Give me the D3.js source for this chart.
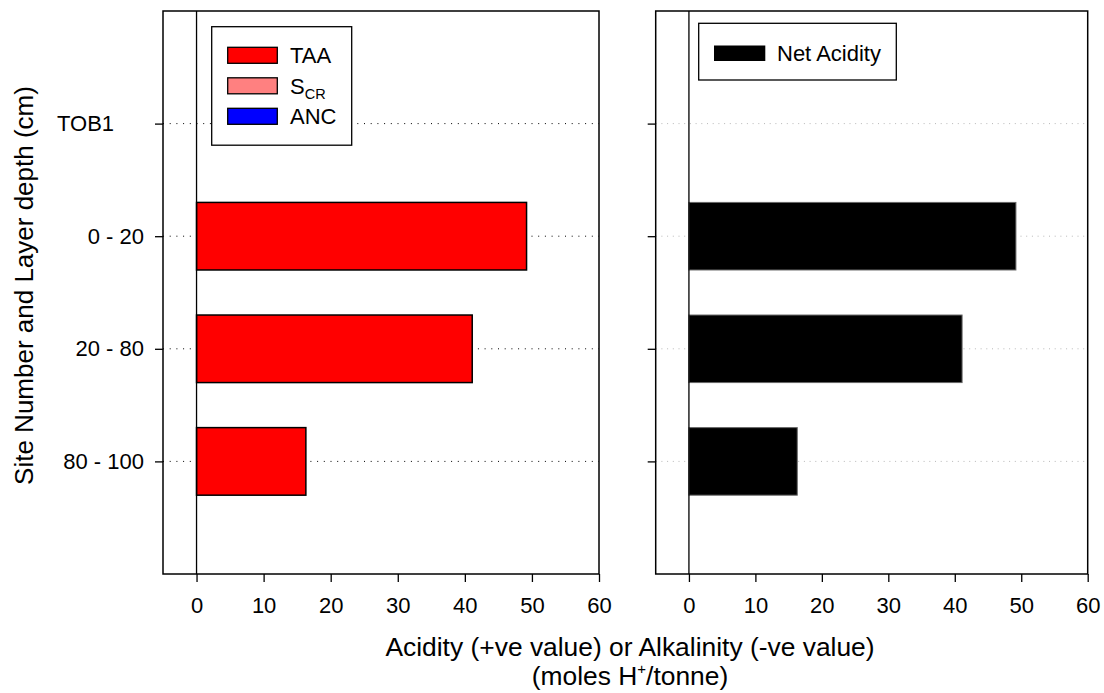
<!DOCTYPE html>
<html>
<head>
<meta charset="utf-8">
<script src="https://cdn.jsdelivr.net/npm/d3@7"></script>
<style>
  html, body { margin: 0; padding: 0; background: #fff; }
  svg text { font-family: Arial, "Liberation Sans", sans-serif; fill: #000; }
</style>
</head>
<body>
<svg id="chart" width="1104" height="693"></svg>
<script>
// ---- data ----
const categories = ["TOB1", "0 - 20", "20 - 80", "80 - 100"];
const taa = [null, 49.2, 41.1, 16.3];
const scr = [null, 0, 0, 0];
const anc = [null, 0, 0, 0];
const netAcidity = [null, 49.2, 41.1, 16.3];
const xTicks = [0, 10, 20, 30, 40, 50, 60];
const xDomain = [-5, 60];

const svg = d3.select("#chart");
const yTop = 11, yBottom = 574;
const y = d3.scaleLinear().domain([0, categories.length + 1]).range([yTop, yBottom]);
const slot = y(1) - y(0);
const barH = slot * 0.6;

function panel(x0, x1, opts) {
  const x = d3.scaleLinear().domain(xDomain).range([x0, x1]);
  const g = svg.append("g");

  // gridlines (dotted) at each category
  g.selectAll("line.grid").data(categories).join("line")
    .attr("class", "grid")
    .attr("x1", x0).attr("x2", x1)
    .attr("y1", (d, i) => y(i + 1)).attr("y2", (d, i) => y(i + 1))
    .attr("stroke", opts.gridColor).attr("stroke-width", 1)
    .attr("stroke-dasharray", opts.gridDash);

  // bars
  opts.series.forEach(s => {
    g.selectAll(null).data(s.values.map((v, i) => ({v, i})).filter(d => d.v != null && d.v !== 0))
      .join("rect")
      .attr("x", d => x(Math.min(0, d.v)))
      .attr("width", d => Math.abs(x(d.v) - x(0)))
      .attr("y", d => y(d.i + 1) - barH / 2)
      .attr("height", barH)
      .attr("fill", s.color)
      .attr("stroke", opts.barStroke).attr("stroke-width", opts.barStrokeW);
  });

  // zero line
  g.append("line").attr("x1", x(0)).attr("x2", x(0)).attr("y1", yTop).attr("y2", yBottom)
    .attr("stroke", "#000").attr("stroke-width", 1.3);

  // x axis
  const xa = g.append("g").attr("transform", `translate(0,${yBottom})`)
    .call(d3.axisBottom(x).tickValues(xTicks).tickSize(8).tickPadding(8).tickFormat(d3.format("d")));
  xa.select(".domain").remove();
  xa.selectAll(".tick line").attr("stroke", "#000").attr("stroke-width", 1.3);
  xa.selectAll(".tick text").attr("font-size", 22).attr("dy", "0.71em").attr("y", 23.5);

  // y axis
  const ya = g.append("g").attr("transform", `translate(${x0},0)`)
    .call(d3.axisLeft(y).tickValues(categories.map((c, i) => i + 1)).tickSize(8).tickPadding(11)
      .tickFormat(i => opts.labels ? categories[i - 1] : ""));
  ya.select(".domain").remove();
  ya.selectAll(".tick line").attr("stroke", "#000").attr("stroke-width", 1.3);
  ya.selectAll(".tick text").attr("font-size", 22);

  // frame
  g.append("rect").attr("x", x0).attr("y", yTop).attr("width", x1 - x0).attr("height", yBottom - yTop)
    .attr("fill", "none").attr("stroke", "#000").attr("stroke-width", 1.5);
  return {g, x};
}

const left = panel(163, 599, {
  gridColor: "#000", gridDash: "1,5.7", barStroke: "#000", barStrokeW: 1.5, labels: true,
  series: [{values: taa, color: "#ff0000"}, {values: scr, color: "#ff8080"}, {values: anc, color: "#0000ff"}]
});
// TOB1 label is left aligned in the reference
left.g.selectAll(".tick text").filter(function() { return d3.select(this).text() === "TOB1"; })
  .attr("x", -106).attr("text-anchor", "start");

const right = panel(655.7, 1087.7, {
  gridColor: "#b8b8b8", gridDash: "1,4.7", barStroke: "#666", barStrokeW: 1, labels: false,
  series: [{values: netAcidity, color: "#000000"}]
});

// legend left
const lg = svg.append("g");
lg.append("rect").attr("x", 211.7).attr("y", 26.7).attr("width", 140).attr("height", 118.5)
  .attr("fill", "#fff").attr("stroke", "#000").attr("stroke-width", 1.3);
const legItems = [
  {name: "TAA", color: "#ff0000"},
  {name: "S", sub: "CR", color: "#ff8080"},
  {name: "ANC", color: "#0000ff"}
];
legItems.forEach((d, i) => {
  const yy = 47.3 + i * 30.5;
  lg.append("rect").attr("x", 227.7).attr("y", yy).attr("width", 49.6).attr("height", 16)
    .attr("fill", d.color).attr("stroke", "#000").attr("stroke-width", 1.3);
  const t = lg.append("text").attr("x", 290).attr("y", yy + 16).attr("font-size", 22).text(d.name);
  if (d.sub) t.append("tspan").attr("font-size", 14.5).attr("dy", 5).text(d.sub);
});

// legend right
const rg = svg.append("g");
rg.append("rect").attr("x", 698.7).attr("y", 23.3).attr("width", 197.6).attr("height", 56.7)
  .attr("fill", "#fff").attr("stroke", "#000").attr("stroke-width", 1.3);
rg.append("rect").attr("x", 714).attr("y", 45.5).attr("width", 51.3).attr("height", 15.5).attr("fill", "#000");
rg.append("text").attr("x", 777).attr("y", 61).attr("font-size", 22).text("Net Acidity");

// axis titles
svg.append("text").attr("x", 630).attr("y", 655.5).attr("text-anchor", "middle").attr("font-size", 26.4)
  .text("Acidity (+ve value) or Alkalinity (-ve value)");
const xt2 = svg.append("text").attr("x", 630).attr("y", 684.5).attr("text-anchor", "middle").attr("font-size", 26.4);
xt2.append("tspan").text("(moles H");
xt2.append("tspan").attr("font-size", 15).attr("dy", -11).text("+");
xt2.append("tspan").attr("dy", 11).text("/tonne)");

svg.append("text").attr("transform", "translate(32.5,285.5) rotate(-90)").attr("text-anchor", "middle")
  .attr("font-size", 26).text("Site Number and Layer depth (cm)");
</script>
</body>
</html>
